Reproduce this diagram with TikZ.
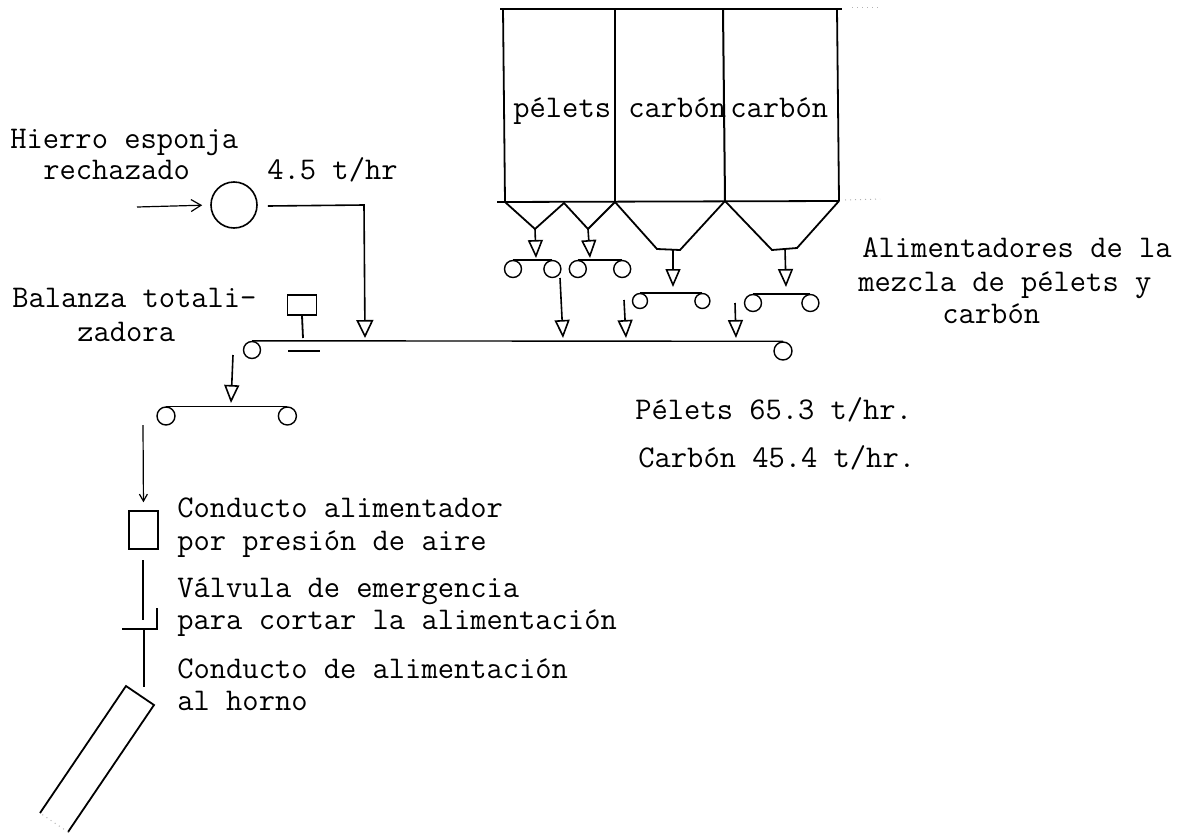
\documentclass[tikz,border=0pt]{standalone}
\usepackage{fontspec}
\usetikzlibrary{arrows.meta,positioning}

\begin{document}
\begin{tikzpicture}[
    x=0.5pt,y=-0.5pt,
    node distance=0pt,
    txt/.style={anchor=base west,inner sep=0pt,font=\ttfamily\fontsize{15.8}{18}\selectfont},
    roller/.style={draw,circle,inner sep=0pt,minimum size=8.5pt,line width=0.7pt},
    bigroller/.style={roller,minimum size=9pt},
    wall/.style={line width=0.9pt},
    faint/.style={dotted,gray!60,line width=0.5pt},
    belt/.style={line width=0.7pt},
    drop/.style={-{Triangle[open,length=9pt,width=7.5pt]},line width=0.8pt},
    smalldrop/.style={-{Straight Barb[length=3.5pt,width=4pt]},line width=0.6pt}
  ]
    \useasboundingbox (0,0) rectangle (1177,835);

    % silos
    \coordinate (s1t) at (503,9);
    \coordinate (s2t) at (615,9);
    \coordinate (s3t) at (723,9);
    \coordinate (s4t) at (837,9);
    \coordinate (s1b) at (505,202);
    \coordinate (s2b) at (615,202);
    \coordinate (s3b) at (725,201);
    \coordinate (s4b) at (839,201);
    \coordinate (h12) at (564,203);
    \coordinate (o1) at (535,229);
    \coordinate (o2) at (588,229);
    \coordinate (o3a) at (657,249);
    \coordinate (o3b) at (680,250);
    \coordinate (o3) at (673,250);
    \coordinate (o4a) at (772,250);
    \coordinate (o4b) at (797,248);
    \coordinate (o4) at (785,249);
    \draw[line width=1.3pt] (500,9) -- (842,9);
    \draw[faint] (852,7) -- (880,7);
    \draw[faint] (845,200) -- (880,199);
    \draw[wall] (s1t) -- (s1b);
    \draw[line width=1pt] (s2t) -- (s2b);
    \draw[line width=1pt] (s3t) -- (s3b);
    \draw[wall] (s4t) -- (s4b);
    \draw[wall] (497,202) -- (s4b);
    \draw[wall] (s1b) -- (o1) -- (h12) -- (o2) -- (s2b);
    \draw[wall] (s2b) -- (o3a) -- (o3b) -- (s3b);
    \draw[wall] (s3b) -- (o4a) -- (o4b) -- (s4b);
    \node[txt] (pelets) at (513,117) {pélets};
    \node[txt] (carbon1) at (628,117) {carbón};
    \node[txt] (carbon2) at (730,117) {carbón};

    % alimentadores
    \node[roller] (r1) at (513,269) {};
    \node[roller,right=10.5pt of r1] (r2) {};
    \node[roller,right=3.5pt of r2] (r3) {};
    \node[roller,right=13pt of r3] (r4) {};
    \node[roller,minimum size=7.5pt] (r5) at (640,301) {};
    \node[roller,minimum size=7.5pt,right=23pt of r5] (r6) {};
    \node[roller] (r7) at (753,303) {};
    \node[roller,right=19.5pt of r7] (r8) {};
    \draw[belt] (r1.north) -- (r2.north);
    \draw[belt] (r3.north) -- (r4.north);
    \draw[belt] (r5.north) -- (r6.north);
    \draw[belt] (r7.north) -- (r8.north);
    \draw[drop] (o1) -- (536,258);
    \draw[drop] (o2) -- (590,258);
    \draw[drop] (o3) -- (673,287);
    \draw[drop] (o4) -- (786,287);

    % transportador principal
    \node[roller] (mainl) at (252,350) {};
    \node[bigroller] (mainr) at (783,351) {};
    \draw[belt] (mainl.north) -- (mainr.north);
    \draw[drop] (560,278) -- (563,338);
    \draw[drop] (624,300) -- (626,338);
    \draw[drop] (735,303) -- (736,338);

    % hierro esponja
    \node[draw,circle,inner sep=0pt,minimum size=23pt,line width=0.8pt] (criba) at (234,205) {};
    \coordinate (entra) at (137,207);
    \coordinate (codo) at (364,205);
    \draw[-{Straight Barb[length=5pt,width=6pt]},line width=0.6pt,shorten >=4pt] (entra) -- (criba.west);
    \draw[line width=0.8pt,-{Triangle[open,length=9pt,width=8.5pt]}] (criba.east) ++(10,1) -- (codo) -- (365,338);
    \node[txt] (hierro) at (10,148) {Hierro esponja};
    \node[txt] (rechazado) at (43,179) {rechazado};
    \node[txt] (flujo) at (267,179) {4.5 t/hr};

    % balanza
    \node[draw,minimum width=14.5pt,minimum height=10pt,inner sep=0pt,line width=0.8pt] (balanza) at (302,305) {};
    \coordinate (pesa) at (303,338);
    \draw[line width=0.9pt] (balanza.south) -- (pesa);
    \draw[belt] (288,351) -- (320,351);
    \node[txt] (balanzaa) at (12,307) {Balanza totali-};
    \node[txt] (balanzab) at (77,341) {zadora};

    % segundo transportador
    \node[bigroller] (low1) at (166,416) {};
    \node[bigroller,right=51pt of low1] (low2) {};
    \draw[belt] (low1.north) -- (low2.north);
    \draw[drop] (233,355) -- (231,403);

    % conducto
    \node[draw,minimum width=14.5pt,minimum height=19pt,inner sep=0pt,line width=0.7pt] (conducto) at (143.5,530) {};
    \coordinate (sale) at (143,425);
    \draw[smalldrop,shorten >=4pt] (sale) -- (conducto.north);
    \node[txt] (conductoa) at (177,517) {Conducto alimentador};
    \node[txt] (conductob) at (177,550) {por presión de aire};

    % valvula
    \coordinate (valv) at (144,629);
    \coordinate (valvi) at (122,629);
    \coordinate (valvd) at (157,629);
    \coordinate (valvs) at (157,608);
    \coordinate (horno) at (144,687);
    \draw[line width=0.7pt] (143,560) -- (143,620);
    \draw[line width=0.7pt] (valvi) -- (valvd) -- (valvs);
    \draw[line width=0.7pt] (valv) -- (horno);
    \node[txt] (valvulaa) at (177,597) {Válvula de emergencia};
    \node[txt] (valvulab) at (177,629) {para cortar la alimentación};
    \node[txt] (hornoa) at (177,678) {Conducto de alimentación};
    \node[txt] (hornob) at (177,710) {al horno};

    % conducto al horno
    \coordinate (c1) at (126,686);
    \coordinate (c2) at (154,705);
    \coordinate (c3) at (68,832);
    \coordinate (c4) at (40,813);
    \draw[line width=0.9pt] (c4) -- (c1) -- (c2) -- (c3);
    \draw[faint] (c3) -- (c4);

    % notas
    \node[txt] (alima) at (862,257) {Alimentadores de la};
    \node[txt] (alimb) at (858,291) {mezcla de pélets y};
    \node[txt] (alimc) at (942,323) {carbón};
    \node[txt] (tasaa) at (635,419) {Pélets 65.3 t/hr.};
    \node[txt] (tasab) at (638,467) {Carbón 45.4 t/hr.};
  \end{tikzpicture}
\end{document}
